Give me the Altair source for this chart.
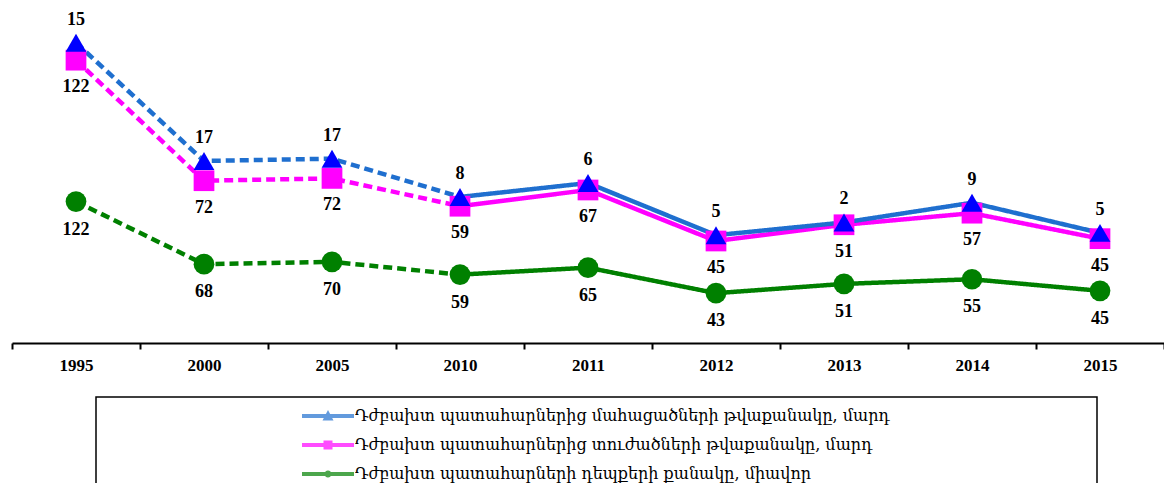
import altair as alt
import pandas as pd

years = ["1995", "2000", "2005", "2010", "2011", "2012", "2013", "2014", "2015"]
deaths = [15, 17, 17, 8, 6, 5, 2, 9, 5]
injured = [122, 72, 72, 59, 67, 45, 51, 57, 45]
accidents = [122, 68, 70, 59, 65, 43, 51, 55, 45]

series_names = [
    "Դժբախտ պատահարներից մահացածների թվաքանակը, մարդ",
    "Դժբախտ պատահարներից տուժածների թվաքանակը, մարդ",
    "Դժբախտ պատահարների դեպքերի քանակը, միավոր",
]
series_values = [deaths, injured, accidents]
stack_order = [2, 1, 0]
line_colors = ["#1F6FCF", "#FF00FF", "#008000"]
marker_colors = ["#0000FF", "#FF00FF", "#008000"]
marker_shapes = ["triangle-up", "square", "circle"]
label_dy = [-23, 27, 28]

# legend symbols: line with marker
legend_paths = [
    "M-2.6,-0.2H2.6V0.2H-2.6Z M0,-0.6L0.55,0.45H-0.55Z",
    "M-2.6,-0.2H2.6V0.2H-2.6Z M-0.45,-0.45H0.45V0.45H-0.45Z",
    "M-2.6,-0.2H2.6V0.2H-2.6Z M-0.35,0A0.35,0.35 0 1,1 0.35,0A0.35,0.35 0 1,1 -0.35,0Z",
]

rows = []
for s, name in enumerate(series_names):
    for i, yr in enumerate(years):
        rows.append({"year": yr, "idx": i, "series": name, "sid": s,
                     "value": series_values[s][i], "order": stack_order[s]})
df = pd.DataFrame(rows)

base = alt.Chart(df).transform_stack(
    stack="value", groupby=["year"], as_=["y0", "y1"],
    sort=[alt.SortField("order", order="ascending")]
)

x_enc = alt.X("year:N", sort=years,
              scale=alt.Scale(type="band", paddingInner=0, paddingOuter=0),
              axis=alt.Axis(title=None, tickBand="extent", labelAngle=0,
                            domainColor="black", domainWidth=2,
                            tickColor="black", tickWidth=2, tickSize=6,
                            labelFont="Liberation Serif", labelFontWeight="bold",
                            labelFontSize=17, labelColor="black", labelPadding=8))
y_enc = alt.Y("y1:Q", scale=alt.Scale(domain=[0, 289], nice=False), axis=None)

layers = []
# lines
for s in [2, 1, 0]:
    for cond, dash in [("datum.idx <= 3", [9, 5]), ("datum.idx >= 3", [1, 0])]:
        layers.append(
            base.transform_filter(f"datum.sid == {s}").transform_filter(cond)
            .mark_line(strokeWidth=4.5, strokeDash=dash, color=line_colors[s])
            .encode(x=x_enc, y=y_enc)
        )
# points
for s in [2, 1, 0]:
    layers.append(
        base.transform_filter(f"datum.sid == {s}")
        .mark_point(filled=True, opacity=1, size=430, shape=marker_shapes[s],
                    color=marker_colors[s])
        .encode(x=x_enc, y=y_enc)
    )
# labels
for s in [2, 1, 0]:
    layers.append(
        base.transform_filter(f"datum.sid == {s}")
        .mark_text(font="Liberation Serif", fontWeight="bold", fontSize=18,
                   color="black", dy=label_dy[s], baseline="middle")
        .encode(x=x_enc, y=y_enc, text="value:Q")
    )

# legend carrier (no visible marks, legend from explicit domains)
legend_def = alt.Legend(title=None, orient="none", legendX=306, legendY=398,
                        labelFont="DejaVu Serif", labelFontSize=16, labelColor="black",
                        labelOffset=17, rowPadding=11, symbolSize=400,
                        symbolStrokeWidth=0, labelLimit=900)
layers.append(
    base.transform_filter("false")
    .mark_point(filled=True)
    .encode(x=x_enc, y=y_enc,
            color=alt.Color("series:N", scale=alt.Scale(domain=series_names, range=line_colors),
                            legend=legend_def),
            shape=alt.Shape("series:N", scale=alt.Scale(domain=series_names, range=legend_paths),
                            legend=legend_def))
)

# legend frame
layers.append(
    alt.Chart(alt.Data(values=[{}]))
    .mark_rect(fill="transparent", stroke="black", strokeWidth=1.5)
    .encode(x=alt.value(84), x2=alt.value(1085), y=alt.value(389), y2=alt.value(520))
)

chart = alt.layer(*layers).properties(
    width=1152, height=335,
    padding={"left": 4, "top": 0, "right": 0, "bottom": 140},
    autosize=alt.AutoSizeParams(type="none"),
).configure_view(strokeWidth=0)

chart.save("out.html", embed_options={"renderer": "svg", "actions": False})
